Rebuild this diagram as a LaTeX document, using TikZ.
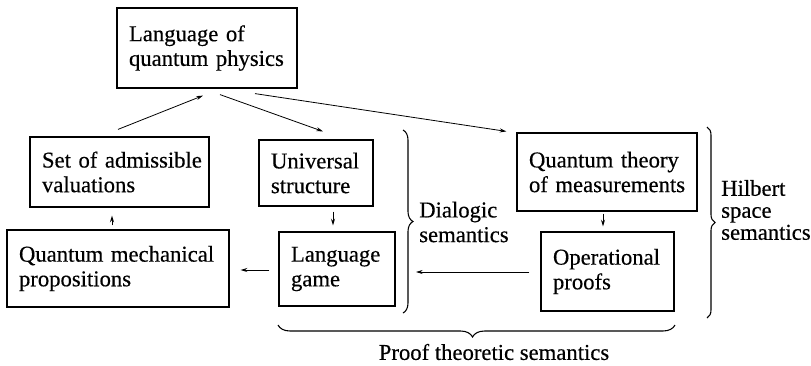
\documentclass[tikz,border=0pt]{standalone}
\usepackage{fontspec}
\setmainfont{Liberation Serif}[FakeBold=0.4]
\usetikzlibrary{arrows.meta,decorations.pathreplacing,calc}
\begin{document}
\begin{tikzpicture}[x=0.75pt,y=-0.75pt,
  box/.style={draw, line width=0.9pt, inner xsep=9pt, inner ysep=0pt, align=left, font=\fontsize{17}{18.5}\selectfont},
  lbl/.style={inner sep=0pt, align=left, font=\fontsize{17}{18.5}\selectfont},
  arr/.style={-{Stealth[length=5pt,width=3pt]}, line width=0.6pt},
  brc/.style={decorate, decoration={brace, amplitude=#1}, line width=0.8pt}]
\useasboundingbox (0,0) rectangle (811,365);

% boxes
\node[box, minimum width=135pt, minimum height=60pt, text width=117pt] (lang) at (207,48) {\mbox{Language of}\\\mbox{quantum physics}};
\node[box, minimum width=134.25pt, minimum height=52.5pt, text width=116.25pt] (set) at (119.5,172) {\mbox{Set of admissible}\\\mbox{valuations}};
\node[box, minimum width=85.5pt, minimum height=49.5pt, text width=67.5pt] (univ) at (316,173) {\mbox{Universal}\\\mbox{structure}};
\node[box, minimum width=166.5pt, minimum height=57.75pt, text width=148.5pt] (qmp) at (118,268.5) {\mbox{Quantum mechanical}\\\mbox{propositions}};
\node[box, minimum width=87pt, minimum height=55.5pt, text width=69pt] (game) at (337,269) {\mbox{Language}\\\mbox{game}};
\node[box, minimum width=135pt, minimum height=58.5pt, text width=117pt] (qtm) at (607,172) {\mbox{Quantum theory}\\\mbox{of measurements}};
\node[box, minimum width=99.75pt, minimum height=59.25pt, text width=81.75pt] (op) at (607.5,271.5) {\mbox{Operational}\\\mbox{proofs}};

% labels
\node[lbl, anchor=west] (dia) at (419,222) {Dialogic\\semantics};
\node[lbl, anchor=west, font=\fontsize{17}{16.5}\selectfont] (hil) at (721,210) {Hilbert\\space\\semantics};
\node[lbl] (pts) at (494,352) {Proof theoretic semantics};

% braces
\draw[brc=7.5pt] (403,130) -- (403,313);
\draw[brc=6pt] (707,127) -- (707,318);
\draw[decorate, decoration={brace, amplitude=9pt, aspect=0.51}, line width=0.8pt] (675,325) -- (278,325);

% arrows
\draw[arr] ($(set.north)+(-1.5,-7)$) -- ($(lang.south)+(-4,7)$);
\draw[arr] ($(lang.south)+(13,6)$) -- ($(univ.north)+(7,-8)$);
\draw[arr] ($(lang.south)+(48,5)$) -- ($(qtm.north west)+(-10,-1)$);
\draw[arr] ($(qmp.north)+(-6,-4)$) -- ($(set.south)+(-7.5,8)$);
\draw[arr] ($(univ.south)+(17,5)$) -- ($(game.north)+(-4,-6)$);
\draw[arr] ($(game.west)+(-9,1)$) -- ($(qmp.east)+(11,1.5)$);
\draw[arr] ($(qtm.south)+(-4,2)$) -- ($(op.north)+(-4.5,-5)$);
\coordinate (dend) at (416,272);
\draw[arr] ($(op.west)+(-11,0.5)$) -- (dend);
\end{tikzpicture}
\end{document}
